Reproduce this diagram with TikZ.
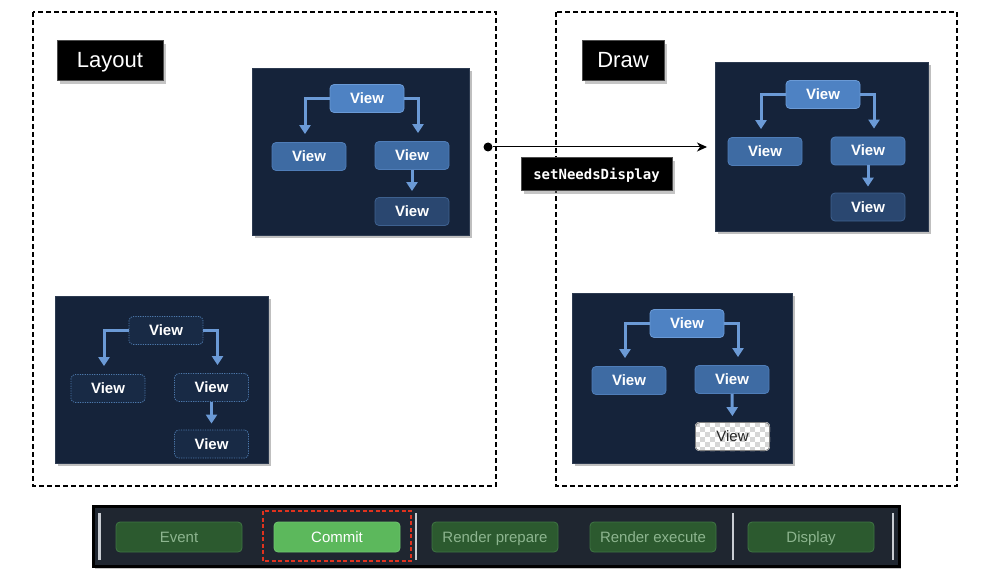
\documentclass[tikz,border=0pt]{standalone}
\usepackage{fontspec}
\setmainfont{Liberation Sans}
\setmonofont{DejaVu Sans Mono}
\usetikzlibrary{arrows.meta,shadows}
\definecolor{panelbg}{HTML}{15233A}
\definecolor{panelline}{HTML}{2C3A50}
\definecolor{rootblue}{HTML}{4E82C3}
\definecolor{rootline}{HTML}{6A9AD6}
\definecolor{childblue}{HTML}{3E6BA3}
\definecolor{childline}{HTML}{4F7DB8}
\definecolor{leafblue}{HTML}{2A4770}
\definecolor{leafline}{HTML}{3E618F}
\definecolor{arrowblue}{HTML}{6B9AD6}
\definecolor{ghostfill}{HTML}{182A45}
\definecolor{ghostline}{HTML}{4C78AB}
\definecolor{checkgray}{HTML}{D6D6D6}
\definecolor{barbg}{HTML}{1F2630}
\definecolor{barsep}{HTML}{C9CDD3}
\definecolor{btnfill}{HTML}{2C5A2F}
\definecolor{btnline}{HTML}{3F7543}
\definecolor{btntext}{HTML}{8DB58F}
\definecolor{commitfill}{HTML}{5CB85C}
\definecolor{commitline}{HTML}{6FC46F}
\definecolor{redline}{HTML}{E0321E}
\tikzset{
  frame/.style={draw=black, line width=1.2pt, dash pattern=on 5pt off 3pt},
  tag/.style={fill=black, draw=black!70, line width=0.6pt, text=white, inner sep=0pt,
    drop shadow={opacity=0.45, shadow xshift=3pt, shadow yshift=-4pt}},
  panel/.style={fill=panelbg, draw=panelline, line width=0.8pt, inner sep=0pt,
    drop shadow={opacity=0.5, shadow xshift=3pt, shadow yshift=-3pt}},
  vbox/.style={rounded corners=4pt, minimum width=74pt, minimum height=28pt, inner sep=0pt,
    text height=10.5pt, text depth=0.5pt,
    text=white, font=\bfseries\fontsize{15}{17}\selectfont, line width=0.8pt},
  vroot/.style={vbox, fill=rootblue, draw=rootline},
  vchild/.style={vbox, fill=childblue, draw=childline},
  vleaf/.style={vbox, fill=leafblue, draw=leafline},
  vghost/.style={vbox, fill=ghostfill, draw=ghostline, dash pattern=on 1.2pt off 1.2pt},
  vcheck/.style={vbox, draw=black!50, text=black!85, font=\fontsize{15}{17}\selectfont},
  tarrow/.style={draw=arrowblue, line width=3pt, -{Triangle[width=11pt,length=9pt]}},
  btn/.style={rounded corners=4pt, minimum width=126pt, minimum height=30pt, inner sep=0pt,
    text height=12pt, text depth=1pt,
    fill=btnfill, draw=btnline, line width=0.8pt, text=btntext, font=\fontsize{15}{17}\selectfont},
  commitbtn/.style={btn, fill=commitfill, draw=commitline, text=white},
  sep/.style={draw=barsep, line width=2.5pt}
}
\begin{document}
\begin{tikzpicture}[x=1pt,y=-1pt]
\useasboundingbox[fill=white] (0,0) rectangle (1000,588);

% frames
\draw[frame] (33,12) rectangle (496,486);
\draw[frame] (556,12) rectangle (957,486);

% tags
\node[tag, minimum width=106pt, minimum height=40pt, text height=16pt, text depth=1pt, font=\fontsize{22}{26}\selectfont] (layout) at (110,60) {Layout};
\node[tag, minimum width=82pt, minimum height=40pt, text height=16pt, text depth=1pt, font=\fontsize{22}{26}\selectfont] (draw) at (623,60) {Draw};

% panels
\node[panel, minimum width=217pt, minimum height=167pt] (pa) at (360.5,151.5) {};
\node[panel, minimum width=213pt, minimum height=167pt] (pb) at (161.5,379.5) {};
\node[panel, minimum width=213pt, minimum height=169pt] (pc) at (821.5,146.5) {};
\node[panel, minimum width=220pt, minimum height=170pt] (pd) at (682,378) {};

% tree A
\node[vroot] (ar) at (367,98.5) {View};
\node[vchild] (al) at (309,156.5) {View};
\node[vchild] (am) at (412,155.5) {View};
\node[vleaf] (ab) at (412,211.5) {View};
\draw[tarrow, shorten >=8pt] (ar.west) -| ([xshift=-4pt]al.north);
\draw[tarrow, shorten >=8pt] (ar.east) -| ([xshift=6pt]am.north);
\draw[tarrow, shorten >=6pt] (am.south) -- (ab.north);

% tree B (ghost)
\node[vghost] (br) at (166,330.5) {View};
\node[vghost] (bl) at (108,388.5) {View};
\node[vghost] (bm) at (211.5,387.5) {View};
\node[vghost] (bb) at (211.5,444) {View};
\draw[tarrow, shorten >=8pt] (br.west) -| ([xshift=-4pt]bl.north);
\draw[tarrow, shorten >=8pt] (br.east) -| ([xshift=6pt]bm.north);
\draw[tarrow, shorten >=6pt] (bm.south) -- (bb.north);

% tree C
\node[vroot] (cr) at (823,94.5) {View};
\node[vchild] (cl) at (765,151.5) {View};
\node[vchild] (cm) at (868,151) {View};
\node[vleaf] (cb) at (868,207) {View};
\draw[tarrow, shorten >=8pt] (cr.west) -| ([xshift=-4pt]cl.north);
\draw[tarrow, shorten >=8pt] (cr.east) -| ([xshift=6pt]cm.north);
\draw[tarrow, shorten >=6pt] (cm.south) -- (cb.north);

% tree D
\node[vroot] (dr) at (687,323.5) {View};
\node[vchild] (dl) at (629,380.5) {View};
\node[vchild] (dm) at (732,379.5) {View};
\begin{scope}
  \clip[rounded corners=4pt] (695,422) rectangle (770,451);
  \fill[white] (695,422) rectangle (770,451);
  \foreach \j in {0,...,5} {
    \foreach \i in {0,...,7} {
      \pgfmathsetmacro\xx{695+\i*10+mod(\j,2)*5}
      \pgfmathsetmacro\yy{422+\j*5}
      \fill[checkgray] (\xx,\yy) rectangle ++(5,5);
    }
  }
\end{scope}
\node[vcheck] (db) at (732.5,436.5) {View};
\draw[tarrow, shorten >=8pt] (dr.west) -| ([xshift=-4pt]dl.north);
\draw[tarrow, shorten >=8pt] (dr.east) -| ([xshift=6pt]dm.north);
\draw[tarrow, shorten >=6pt] (dm.south) -- (db.north);

% setNeedsDisplay connector
\node[circle, fill=black, inner sep=0pt, minimum size=9pt] (dot) at (488,147) {};
\coordinate (arrend) at (707,147);
\draw[line width=1pt, -{Stealth[length=10pt,width=9pt,inset=3pt]}] (dot) -- (arrend);
\node[tag, minimum width=151pt, minimum height=33pt, text height=11pt, text depth=0pt, font=\ttfamily\bfseries\fontsize{14}{16}\selectfont] (snd) at (596.5,173.5) {setNeedsDisplay};

% bottom bar
\node[fill=barbg, draw=black, line width=3pt, minimum width=806pt, minimum height=60pt, inner sep=0pt,
  drop shadow={opacity=0.45, shadow xshift=2pt, shadow yshift=-3pt}] (bar) at (496,536) {};
\coordinate (s1t) at (99.5,513); \coordinate (s1b) at (99.5,560);
\coordinate (s2t) at (416,513); \coordinate (s2b) at (416,560);
\coordinate (s3t) at (733,513); \coordinate (s3b) at (733,560);
\coordinate (s4t) at (893,513); \coordinate (s4b) at (893,560);
\draw[sep] (s1t) -- (s1b);
\draw[sep] (s2t) -- (s2b);
\draw[sep] (s3t) -- (s3b);
\draw[sep] (s4t) -- (s4b);
\node[btn] (event) at (179,537) {Event};
\node[commitbtn] (commit) at (337,537) {Commit};
\node[btn] (rprep) at (495,537) {Render prepare};
\node[btn] (rexec) at (653,537) {Render execute};
\node[btn] (disp) at (811,537) {Display};
\draw[draw=redline, line width=1.5pt, dash pattern=on 4pt off 2.5pt] (263,511) rectangle (411,561);
\end{tikzpicture}
\end{document}
